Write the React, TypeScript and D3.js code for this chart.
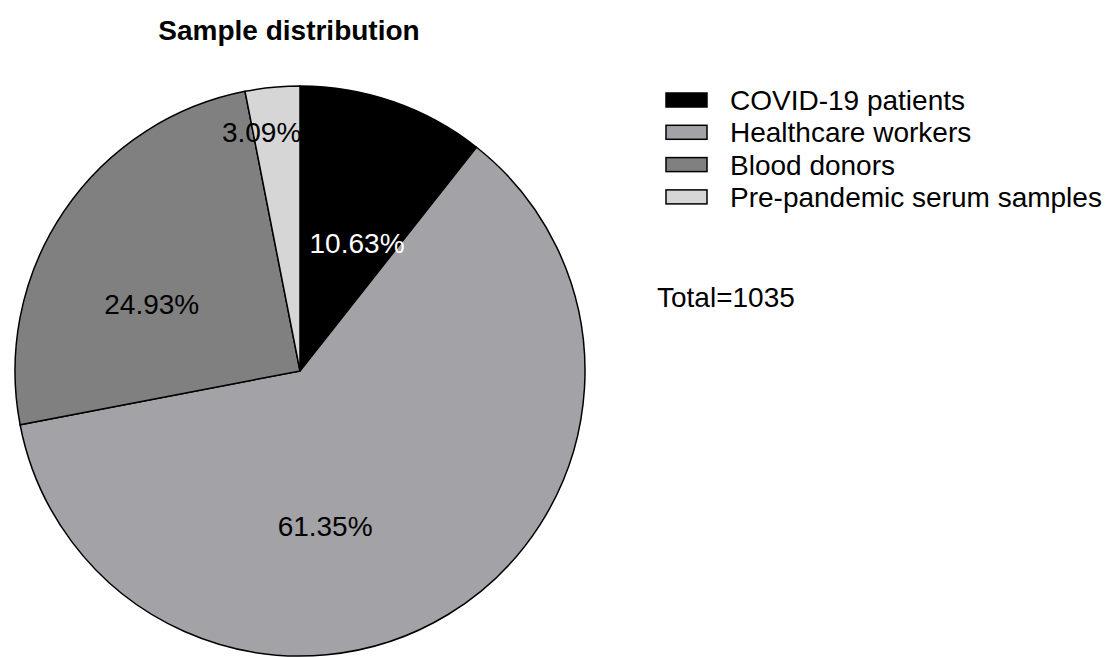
import * as d3 from "d3";

const categories = ["COVID-19 patients", "Healthcare workers", "Blood donors", "Pre-pandemic serum samples"];
const percents = [10.63, 61.35, 24.93, 3.09];
const colors = ["#000000", "#a3a2a6", "#808080", "#d6d6d6"];
// label placement within each slice: fraction along the slice angle, fraction of radius
const labelAngleFrac = [0.63, 0.6, 0.39, 0.18];
const labelRadius = [0.49, 0.55, 0.57, 0.85];

export default function App() {
  const width = 1117;
  const height = 657;
  const cx = 300;
  const cy = 371;
  const r = 285;
  const font = "Arial, 'Liberation Sans', sans-serif";

  const pie = d3.pie<number>().sort(null).value((d) => d);
  const arcs = pie(percents);
  const arc = d3.arc<d3.PieArcDatum<number>>().innerRadius(0).outerRadius(r);

  return (
    <svg width={width} height={height} style={{ position: "absolute", left: 0, top: 0, background: "#fff" }} fontFamily={font}>
      <text x={289} y={40} textAnchor="middle" fontSize={28} fontWeight="bold">Sample distribution</text>
      <g transform={`translate(${cx},${cy})`}>
        {arcs.map((a, i) => (
          <path key={i} d={arc(a) ?? ""} fill={colors[i]} stroke="#000" strokeWidth={1.5} />
        ))}
        {arcs.map((a, i) => {
          const ang = a.startAngle + (a.endAngle - a.startAngle) * labelAngleFrac[i];
          const rr = r * labelRadius[i];
          const x = Math.sin(ang) * rr;
          const y = -Math.cos(ang) * rr;
          return (
            <text key={i} x={x} y={y} dy="0.35em" textAnchor="middle" fontSize={28}
              fill={i === 0 ? "#fff" : "#000"}>
              {percents[i].toFixed(2)}%
            </text>
          );
        })}
      </g>
      <g transform="translate(666,93)">
        {categories.map((c, i) => (
          <g key={c} transform={`translate(0,${i * 32.3})`}>
            <rect x={0} y={0} width={41} height={14} fill={colors[i]} stroke="#000" strokeWidth={1.5} />
            <text x={64} y={7} dy="0.36em" fontSize={28}>{c}</text>
          </g>
        ))}
      </g>
      <text x={657} y={307} fontSize={28}>Total=1035</text>
    </svg>
  );
}
